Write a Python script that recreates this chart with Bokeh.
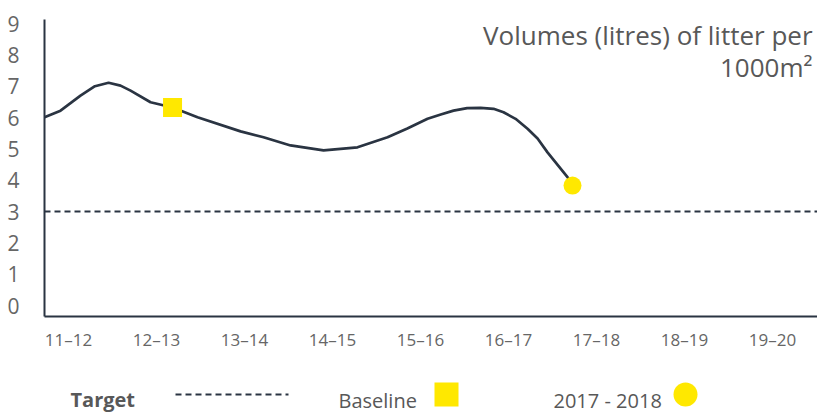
from bokeh.plotting import figure
from bokeh.models import Range1d, FixedTicker, Span, Label
from bokeh.layouts import column
from bokeh.core.properties import value
from bokeh.embed import file_html
from bokeh.resources import INLINE

# ---- data ----
seasons = ["11–12", "12–13", "13–14", "14–15", "15–16", "16–17", "17–18", "18–19", "19–20"]
y_ticks = [0, 1, 2, 3, 4, 5, 6, 7, 8, 9]
curve_x = [-0.273, -0.091, 0.136, 0.30, 0.455, 0.591, 0.705, 0.932, 1.182, 1.466, 1.955,
           2.216, 2.523, 2.898, 3.284, 3.625, 3.85, 4.080, 4.23, 4.375, 4.53, 4.682, 4.83,
           4.943, 5.08, 5.216, 5.33, 5.443, 5.670, 5.727]
curve_y = [6.01, 6.22, 6.70, 7.00, 7.11, 7.02, 6.86, 6.49, 6.32, 6.01, 5.56,
           5.37, 5.11, 4.95, 5.05, 5.37, 5.65, 5.96, 6.10, 6.22, 6.30, 6.31, 6.28,
           6.17, 5.96, 5.64, 5.33, 4.89, 4.10, 3.83]
baseline_x = [1.182]
baseline_y = [6.32]
current_x = [5.727]
current_y = [3.83]
target = 3
title_lines = ["Volumes (litres) of litter per", "1000m²"]
legend_labels = ["Target", "Baseline", "2017 - 2018"]

FONT = "Open Sans"
DARK = "#2a3442"
YELLOW = "#ffe800"
GRAY = "#666666"
TEXT = "#585858"

p = figure(width=817, height=358, output_backend="svg", toolbar_location=None,
           x_range=Range1d(-0.273, 8.511), y_range=Range1d(-0.35, 9.13),
           min_border_left=44, min_border_right=0, min_border_top=19, min_border_bottom=42)
p.outline_line_color = None
p.grid.visible = False
p.background_fill_color = "white"
p.border_fill_color = "white"

for ax in [p.xaxis[0], p.yaxis[0]]:
    ax.axis_line_color = DARK
    ax.axis_line_width = 2
    ax.major_tick_line_color = None
    ax.minor_tick_line_color = None
    ax.major_label_text_font = FONT
    ax.major_label_text_color = GRAY

p.yaxis.ticker = FixedTicker(ticks=y_ticks)
p.yaxis.major_label_text_font_size = "21px"
p.yaxis.major_label_standoff = 19

p.xaxis.ticker = FixedTicker(ticks=list(range(len(seasons))))
p.xaxis.major_label_overrides = {i: s for i, s in enumerate(seasons)}
p.xaxis.major_label_text_font_size = "17px"
p.xaxis.major_label_standoff = 5

p.add_layout(Span(location=target, dimension="width", line_color=DARK,
                  line_width=2, line_dash="6 4"))

p.line(curve_x, curve_y, line_color=DARK, line_width=2.7, line_join="round")
p.scatter(baseline_x, baseline_y, marker="square", size=19, fill_color=YELLOW, line_color=None)
p.scatter(current_x, current_y, marker="circle", size=18, fill_color=YELLOW, line_color=None)

p.add_layout(Label(x=8.455, y=8.62, text=title_lines[0], text_align="right",
                   text_baseline="alphabetic", text_font=FONT, text_font_size="26px",
                   text_color=TEXT))
p.add_layout(Label(x=8.455, y=7.60, text=title_lines[1], text_align="right",
                   text_baseline="alphabetic", text_font=FONT, text_font_size="26px",
                   text_color=TEXT))

# ---- legend strip (its frame is aligned with the chart frame by the column) ----
lg = figure(width=817, height=56, output_backend="svg", toolbar_location=None,
            x_range=Range1d(44, 817), y_range=Range1d(0, 56),
            min_border=0, min_border_left=0, min_border_right=0,
            min_border_top=0, min_border_bottom=0)
lg.axis.visible = False
lg.grid.visible = False
lg.outline_line_color = None

lg.text(x=[70], y=[15], text=[legend_labels[0]], text_font=value(FONT),
        text_font_style="bold", text_font_size="20px", text_color=TEXT,
        text_baseline="alphabetic", text_align="left")
lg.line([175, 288], [20, 20], line_color=DARK, line_width=2, line_dash="6 4")
lg.text(x=[338, 553], y=[14, 14], text=legend_labels[1:], text_font=value(FONT),
        text_font_size="20px", text_color=TEXT,
        text_baseline="alphabetic", text_align="left")
lg.scatter([446], [20], marker="square", size=24, fill_color=YELLOW, line_color=None)
lg.scatter([685], [20], marker="circle", size=24, fill_color=YELLOW, line_color=None)

layout = column(p, lg, spacing=0)
open("out.html", "w").write(file_html(layout, INLINE))
